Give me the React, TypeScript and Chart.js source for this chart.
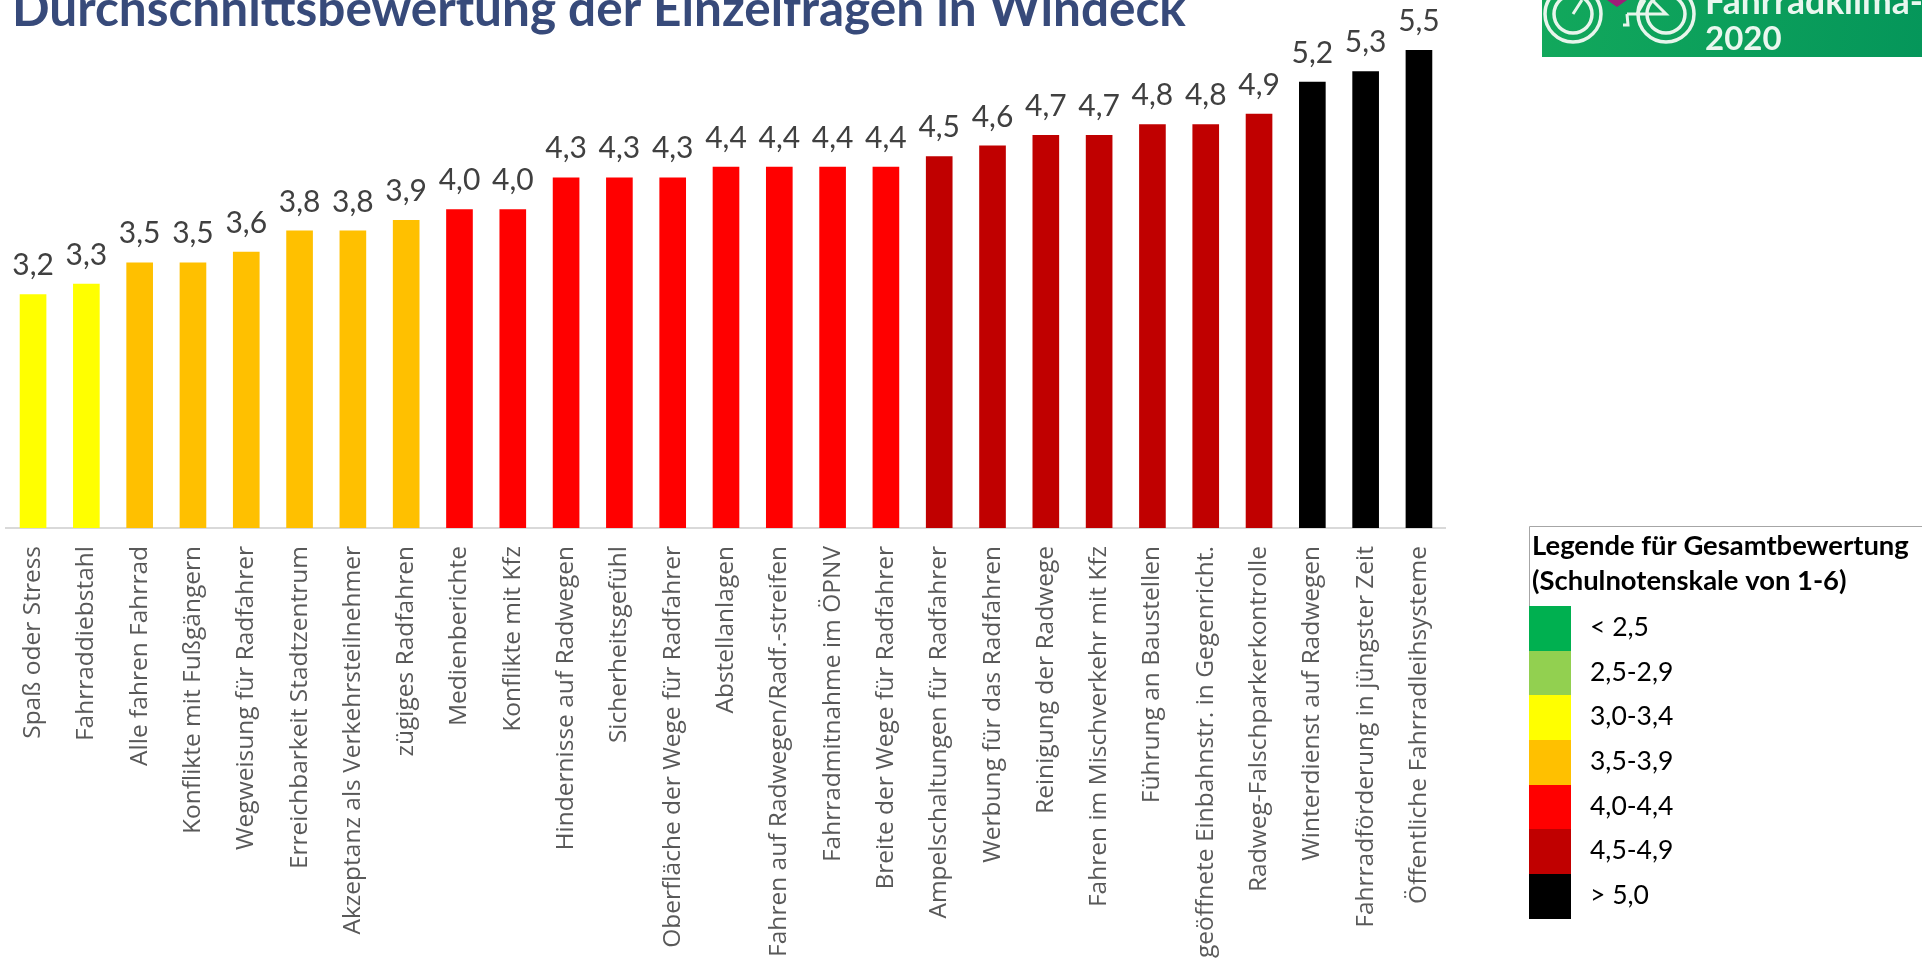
import React, { useEffect, useRef } from "react";
import { Chart, registerables } from "chart.js";

Chart.register(...registerables);

const categories = [
  "Spaß oder Stress", "Fahrraddiebstahl", "Alle fahren Fahrrad", "Konflikte mit Fußgängern",
  "Wegweisung für Radfahrer", "Erreichbarkeit Stadtzentrum", "Akzeptanz als Verkehrsteilnehmer",
  "zügiges Radfahren", "Medienberichte", "Konflikte mit Kfz", "Hindernisse auf Radwegen",
  "Sicherheitsgefühl", "Oberfläche der Wege für Radfahrer", "Abstellanlagen",
  "Fahren auf Radwegen/Radf.-streifen", "Fahrradmitnahme im ÖPNV", "Breite der Wege für Radfahrer",
  "Ampelschaltungen für Radfahrer", "Werbung für das Radfahren", "Reinigung der Radwege",
  "Fahren im Mischverkehr mit Kfz", "Führung an Baustellen", "geöffnete Einbahnstr. in Gegenricht.",
  "Radweg-Falschparkerkontrolle", "Winterdienst auf Radwegen", "Fahrradförderung in jüngster Zeit",
  "Öffentliche Fahrradleihsysteme",
];
const values = [3.2, 3.3, 3.5, 3.5, 3.6, 3.8, 3.8, 3.9, 4.0, 4.0, 4.3, 4.3, 4.3, 4.4, 4.4, 4.4, 4.4, 4.5, 4.6, 4.7, 4.7, 4.8, 4.8, 4.9, 5.2, 5.3, 5.5];
const barColors = [
  "#FFFF00", "#FFFF00", "#FFC000", "#FFC000", "#FFC000", "#FFC000", "#FFC000", "#FFC000",
  "#FF0000", "#FF0000", "#FF0000", "#FF0000", "#FF0000", "#FF0000", "#FF0000", "#FF0000", "#FF0000",
  "#C00000", "#C00000", "#C00000", "#C00000", "#C00000", "#C00000", "#C00000",
  "#000000", "#000000", "#000000",
];
const legendLabels = ["< 2,5", "2,5-2,9", "3,0-3,4", "3,5-3,9", "4,0-4,4", "4,5-4,9", "> 5,0"];
const legendColors = ["#00B050", "#92D050", "#FFFF00", "#FFC000", "#FF0000", "#C00000", "#000000"];
const legendEdges = [606, 651, 695, 740, 785, 829, 874, 919];
const chartTitle = "Durchschnittsbewertung der Einzelfragen in Windeck";
const legendTitle = ["Legende für Gesamtbewertung", "(Schulnotenskale von 1-6)"];

const decorations = {
  id: "decorations",
  afterDraw(chart: any) {
    const { ctx } = chart;
    const meta = chart.getDatasetMeta(0);
    ctx.save();
    // value labels
    ctx.font = "30px Lato";
    ctx.fillStyle = "#404040";
    ctx.textAlign = "center";
    ctx.textBaseline = "alphabetic";
    meta.data.forEach((bar: any, i: number) => {
      ctx.fillText(values[i].toFixed(1).replace(".", ","), bar.x, bar.y - 19);
    });
    // title
    ctx.textAlign = "left";
    ctx.font = "bold 49.5px Lato";
    ctx.fillStyle = "#374A7A";
    ctx.fillText(chartTitle, 12, 26);
    // legend frame
    ctx.strokeStyle = "#A6A6A6";
    ctx.lineWidth = 1;
    ctx.beginPath();
    ctx.moveTo(1529.5, 606);
    ctx.lineTo(1529.5, 526.5);
    ctx.lineTo(1922, 526.5);
    ctx.stroke();
    ctx.fillStyle = "#000000";
    ctx.font = "bold 27.4px Lato";
    ctx.fillText(legendTitle[0], 1532, 555);
    ctx.fillText(legendTitle[1], 1532, 590);
    ctx.font = "26.5px Lato";
    legendLabels.forEach((label, i) => {
      ctx.fillStyle = legendColors[i];
      ctx.fillRect(1529, legendEdges[i], 42, legendEdges[i + 1] - legendEdges[i]);
      ctx.fillStyle = "#000000";
      ctx.fillText(label, 1590, legendEdges[i] + 30);
    });
    // logo
    const grad = ctx.createLinearGradient(1542, 0, 1922, 56);
    grad.addColorStop(0, "#12A85C");
    grad.addColorStop(1, "#05965A");
    ctx.fillStyle = grad;
    ctx.fillRect(1542, 0, 380, 57);
    ctx.strokeStyle = "#E8F5EC";
    ctx.lineWidth = 3.5;
    [[1573, 14, 28], [1573, 14, 19], [1666, 14, 28], [1666, 14, 19]].forEach(([x, y, r]) => {
      ctx.beginPath();
      ctx.arc(x, y, r, 0, Math.PI * 2);
      ctx.stroke();
    });
    ctx.lineWidth = 3;
    ctx.beginPath();
    ctx.moveTo(1573, 14);
    ctx.lineTo(1582, 0);
    ctx.moveTo(1627, 14);
    ctx.lineTo(1666, 14);
    ctx.lineTo(1652, 0);
    ctx.moveTo(1627, 14);
    ctx.lineTo(1628, 25);
    ctx.lineTo(1623, 25);
    ctx.moveTo(1637, 14);
    ctx.lineTo(1645, 0);
    ctx.stroke();
    ctx.fillStyle = "#A01C78";
    ctx.beginPath();
    ctx.moveTo(1607, 0);
    ctx.lineTo(1627, 0);
    ctx.lineTo(1617, 7);
    ctx.closePath();
    ctx.fill();
    ctx.fillStyle = "#EAF7EF";
    ctx.font = "bold 35.5px Lato";
    ctx.fillText("Fahrradklima-Test", 1705, 14);
    ctx.font = "bold 33px Lato";
    ctx.fillText("2020", 1705, 50);
    ctx.restore();
  },
};

export default function App() {
  const ref = useRef<HTMLCanvasElement>(null);
  useEffect(() => {
    const chart = new Chart(ref.current!, {
      type: "bar",
      data: {
        labels: categories,
        datasets: [{ data: values, backgroundColor: barColors, categoryPercentage: 1, barPercentage: 0.5 }],
      },
      options: {
        animation: false,
        responsive: false,
        layout: { padding: { left: 6.4, right: 476.4, top: 50, bottom: 0 } },
        plugins: { legend: { display: false }, title: { display: false }, tooltip: { enabled: false } },
        scales: {
          x: {
            grid: { display: false, drawTicks: false },
            border: { display: true, color: "#D9D9D9", width: 2 },
            afterFit(scale: any) { scale.height = 432; },
            ticks: {
              autoSkip: false,
              minRotation: 90,
              maxRotation: 90,
              padding: 18,
              color: "#595959",
              font: { family: "Open Sans", size: 24.5 },
            },
          },
          y: { display: false, min: 1, max: 5.5 },
        },
      },
      plugins: [decorations],
    } as any);
    return () => chart.destroy();
  }, []);
  return (
    <canvas
      ref={ref}
      width={1922}
      height={960}
      style={{ position: "fixed", left: 0, top: 0, width: 1922, height: 960, display: "block" }}
    />
  );
}
